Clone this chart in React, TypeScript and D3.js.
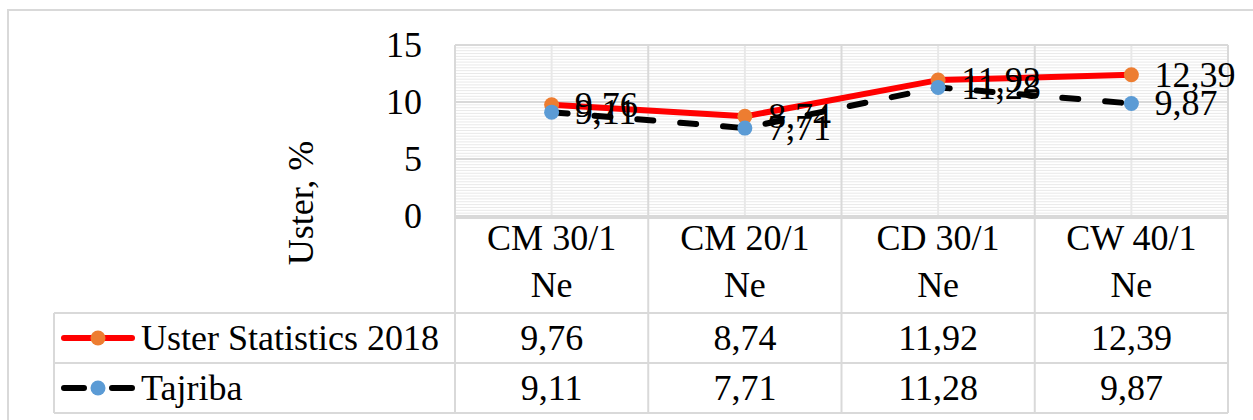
import * as d3 from "d3";

const categories = [
  ["CM 30/1", "Ne"],
  ["CM 20/1", "Ne"],
  ["CD 30/1", "Ne"],
  ["CW 40/1", "Ne"],
];
const seriesNames = ["Uster Statistics 2018", "Tajriba"];
const usterValues = [9.76, 8.74, 11.92, 12.39];
const tajribaValues = [9.11, 7.71, 11.28, 9.87];
const yTicks = [0, 5, 10, 15];

const W = 1253;
const H = 420;
const PLOT = { left: 455, right: 1228, top: 45, bottom: 216 };
const TABLE_LEFT = 54;
const ROWS = [313, 363, 413];
const FONT = "Liberation Serif, Times New Roman, DejaVu Serif, serif";
const FS = 36;
const GRID = "#d9d9d9";

const fmt = (v: number) => d3.format(".2f")(v).replace(".", ",");

export default function App() {
  const x = d3
    .scaleBand<number>()
    .domain(categories.map((_, i) => i))
    .range([PLOT.left, PLOT.right]);
  const y = d3.scaleLinear().domain([0, 15]).range([PLOT.bottom, PLOT.top]);
  const cx = (i: number) => (x(i) ?? 0) + x.bandwidth() / 2;

  const line = d3
    .line<number>()
    .x((_, i) => cx(i))
    .y((d) => y(d));

  const minor = d3.range(0, 15.001, 0.25).filter((v) => v % 5 !== 0);

  const series = [
    { name: seriesNames[0], values: usterValues, stroke: "#ff0000", dash: undefined, marker: "#ed7d31" },
    { name: seriesNames[1], values: tajribaValues, stroke: "#000000", dash: "16,27", marker: "#5b9bd5" },
  ];

  const txt = { fontSize: FS, fill: "#000", style: { fontFamily: FONT } };

  return (
    <svg
      width={W}
      height={H}
      style={{ position: "fixed", left: 0, top: 0, background: "#fff", fontFamily: FONT }}
    >
      {/* outer chart border */}
      <rect x={8} y={10} width={1260} height={420} fill="none" stroke={GRID} strokeWidth={2} />

      {/* minor horizontal gridlines */}
      {minor.map((v) => (
        <line key={v} x1={PLOT.left} x2={PLOT.right} y1={y(v)} y2={y(v)} stroke="#e9e9e9" strokeWidth={1} />
      ))}
      {/* minor vertical gridlines at category centers */}
      {categories.map((_, i) => (
        <line key={i} x1={cx(i)} x2={cx(i)} y1={PLOT.top} y2={PLOT.bottom} stroke="#e8e8e8" strokeWidth={2} />
      ))}
      {/* major horizontal gridlines */}
      {yTicks.map((t) => (
        <line key={t} x1={PLOT.left} x2={PLOT.right} y1={y(t)} y2={y(t)} stroke={GRID} strokeWidth={2} />
      ))}
      {/* category dividers through plot and table */}
      {categories.map((_, i) => (
        <line key={i} x1={x(i)} x2={x(i)} y1={PLOT.top} y2={ROWS[2]} stroke={GRID} strokeWidth={2} />
      ))}
      <line x1={PLOT.right} x2={PLOT.right} y1={PLOT.top} y2={ROWS[2]} stroke={GRID} strokeWidth={2} />

      {/* table horizontal lines */}
      <line x1={PLOT.left} x2={PLOT.right} y1={PLOT.bottom + 2} y2={PLOT.bottom + 2} stroke={GRID} strokeWidth={2} />
      {ROWS.map((r) => (
        <line key={r} x1={TABLE_LEFT} x2={PLOT.right} y1={r} y2={r} stroke={GRID} strokeWidth={2} />
      ))}
      <line x1={TABLE_LEFT} x2={TABLE_LEFT} y1={ROWS[0]} y2={ROWS[2]} stroke={GRID} strokeWidth={2} />

      {/* y tick labels */}
      {yTicks.map((t) => (
        <text key={t} x={422} y={y(t) + 12} textAnchor="end" {...txt}>
          {t}
        </text>
      ))}

      {/* y axis title */}
      <text transform={`translate(313,203) rotate(-90)`} textAnchor="middle" {...txt}>
        Uster, %
      </text>

      {/* category labels */}
      {categories.map((c, i) => (
        <g key={i}>
          <text x={cx(i)} y={250} textAnchor="middle" {...txt}>
            {c[0]}
          </text>
          <text x={cx(i)} y={297} textAnchor="middle" {...txt}>
            {c[1]}
          </text>
        </g>
      ))}

      {/* lines */}
      {series.map((s) => (
        <path
          key={s.name}
          d={line(s.values) ?? ""}
          fill="none"
          stroke={s.stroke}
          strokeWidth={6}
          strokeDasharray={s.dash}
          strokeLinecap="round"
          strokeLinejoin="round"
        />
      ))}
      {/* markers */}
      {series.map((s) =>
        s.values.map((v, i) => (
          <circle key={s.name + i} cx={cx(i)} cy={y(v)} r={7.5} fill={s.marker} />
        ))
      )}
      {/* data labels */}
      {series.map((s) =>
        s.values.map((v, i) => (
          <text key={s.name + "l" + i} x={cx(i) + 23} y={y(v) + 12} {...txt}>
            {fmt(v)}
          </text>
        ))
      )}

      {/* table rows: legend keys + values */}
      {series.map((s, r) => {
        const cy = (ROWS[r] + ROWS[r + 1]) / 2;
        return (
          <g key={s.name}>
            <line
              x1={64}
              x2={132}
              y1={cy}
              y2={cy}
              stroke={s.stroke}
              strokeWidth={6}
              strokeDasharray={s.dash ? "20,28" : undefined}
              strokeLinecap="round"
            />
            <circle cx={98} cy={cy} r={7.5} fill={s.marker} />
            <text x={141} y={cy + 12} {...txt}>
              {s.name}
            </text>
            {s.values.map((v, i) => (
              <text key={i} x={cx(i)} y={cy + 12} textAnchor="middle" {...txt}>
                {fmt(v)}
              </text>
            ))}
          </g>
        );
      })}
    </svg>
  );
}
